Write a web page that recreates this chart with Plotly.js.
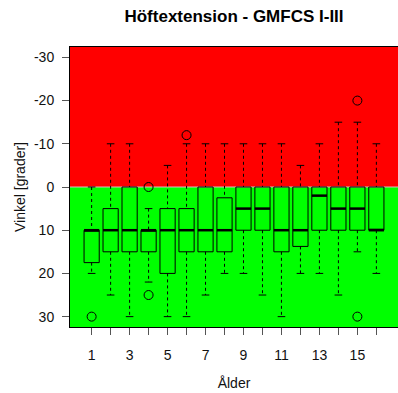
<!DOCTYPE html>
<html>
<head>
<meta charset="utf-8">
<script src="https://cdn.plot.ly/plotly-3.0.1.min.js"></script>
<style>html,body{margin:0;padding:0;background:#fff;}#chart{width:398px;height:393px;}</style>
</head>
<body>
<div id="chart"></div>
<script>
// Data
var ages = [1, 2, 3, 4, 5, 6, 7, 8, 9, 10, 11, 12, 13, 14, 15, 16];
var whiskerLow = [0, -10, -10, 5, -5, -10, -10, -10, -10, -10, -10, -5, -10, -15, -15, -10];
var q1 = [10, 5, 0, 10, 5, 5, 0, 2.5, 0, 0, 0, 0, 0, 0, 0, 0];
var median = [10, 10, 10, 10, 10, 10, 10, 10, 5, 5, 10, 10, 2, 5, 5, 10];
var q3 = [17.5, 15, 15, 15, 20, 15, 15, 15, 10, 10, 15, 13.75, 10, 10, 10, 10];
var whiskerHigh = [20, 25, 30, 22, 30, 30, 25, 20, 20, 25, 30, 20, 20, 25, 15, 20];
var outlierAge = [1, 4, 4, 6, 15, 15];
var outlierValue = [30, 0, 25, -12, -20, 30];
var yTicks = [-30, -20, -10, 0, 10, 20, 30];
var yTickLabels = ['-30', '-20', '-10', '0', '10', '20', '30'];
var xTickLabels = ['1', '', '3', '', '5', '', '7', '', '9', '', '11', '', '13', '', '15', ''];

var boxW = 0.8, capW = 0.4;
var FONT = 'Liberation Sans, Arial, sans-serif';

var wx = [], wy = [], cx = [], cy = [], mx = [], my = [];
ages.forEach(function (a, i) {
  wx.push(a, a, null, a, a, null);
  wy.push(whiskerLow[i], q1[i], null, q3[i], whiskerHigh[i], null);
  cx.push(a - capW / 2, a + capW / 2, null, a - capW / 2, a + capW / 2, null);
  cy.push(whiskerLow[i], whiskerLow[i], null, whiskerHigh[i], whiskerHigh[i], null);
  mx.push(a - boxW / 2, a + boxW / 2, null);
  my.push(median[i], median[i], null);
});

var traces = [
  {
    type: 'box', x: ages, q1: q1, median: median, q3: q3,
    lowerfence: q1, upperfence: q3, width: boxW,
    fillcolor: 'rgba(0,0,0,0)', line: { color: '#000', width: 1 },
    whiskerwidth: 0, hoverinfo: 'skip', showlegend: false
  },
  { type: 'scatter', mode: 'lines', x: wx, y: wy, line: { color: '#000', width: 1, dash: '3px,3px' }, hoverinfo: 'skip', showlegend: false },
  { type: 'scatter', mode: 'lines', x: cx, y: cy, line: { color: '#000', width: 1 }, hoverinfo: 'skip', showlegend: false },
  { type: 'scatter', mode: 'lines', x: mx, y: my, line: { color: '#000', width: 2.5 }, hoverinfo: 'skip', showlegend: false },
  { type: 'scatter', mode: 'markers', x: outlierAge, y: outlierValue,
    marker: { symbol: 'circle-open', size: 9, color: '#000', line: { width: 1, color: '#000' } }, showlegend: false }
];

var layout = {
  width: 398, height: 393,
  margin: { l: 70, r: 0, t: 47, b: 66, pad: 0 },
  paper_bgcolor: '#ffffff', plot_bgcolor: '#00ff00',
  font: { family: FONT, size: 14, color: '#111' },
  title: { text: '<b>Höftextension - GMFCS I-III</b>', font: { family: FONT, size: 17, color: '#000' }, x: 0.5, xref: 'paper', y: 0.958, yanchor: 'middle' },
  showlegend: false,
  xaxis: {
    range: [-0.14, 17.14], tickmode: 'array', tickvals: ages, ticktext: xTickLabels,
    ticks: 'outside', ticklen: 7, tickcolor: '#555', tickwidth: 1,
    showgrid: false, zeroline: false, showline: true, linecolor: '#000', linewidth: 1, mirror: true,
    ticklabelstandoff: 8, tickfont: { size: 14 },
    title: { text: 'Ålder', font: { size: 14 }, standoff: 16 }
  },
  yaxis: {
    range: [32.4, -32.4], tickmode: 'array', tickvals: yTicks, ticktext: yTickLabels,
    ticks: 'outside', ticklen: 7, tickcolor: '#555', tickwidth: 1,
    showgrid: false, zeroline: false, showline: true, linecolor: '#000', linewidth: 1, mirror: true,
    ticklabelstandoff: 5, tickfont: { size: 14 },
    title: { text: 'Vinkel [grader]', font: { size: 14 }, standoff: 5 }
  },
  shapes: [
    { type: 'rect', layer: 'below', xref: 'paper', x0: 0, x1: 1, yref: 'y', y0: -32.4, y1: 0, fillcolor: '#ff0000', line: { width: 0 } },
    { type: 'rect', layer: 'below', xref: 'paper', x0: 0, x1: 1, yref: 'y', y0: 0, y1: 32.4, fillcolor: '#00ff00', line: { width: 0 } },
    { type: 'line', layer: 'below', xref: 'paper', x0: 0, x1: 1, yref: 'y', y0: 0, y1: 0, line: { color: '#d8c0c0', width: 1 } }
  ]
};

Plotly.newPlot('chart', traces, layout, { staticPlot: true, displayModeBar: false });
</script>
</body>
</html>
